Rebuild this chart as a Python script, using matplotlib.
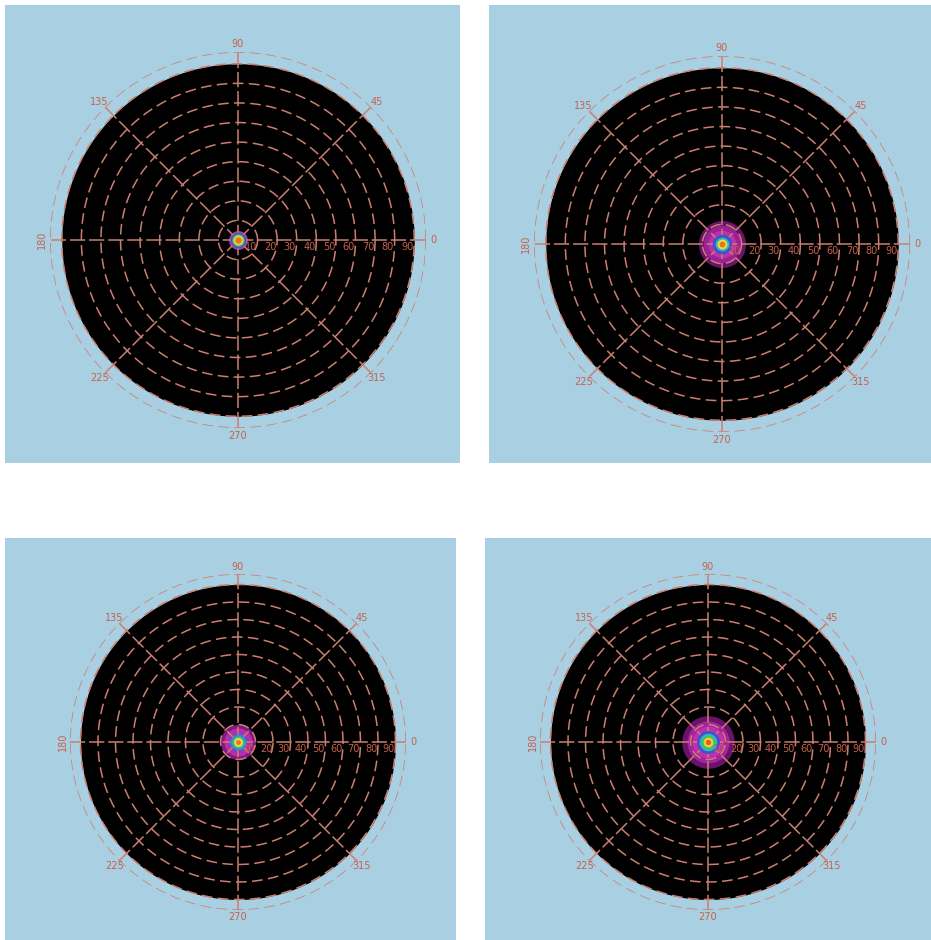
import numpy as np
import matplotlib
matplotlib.use("Agg")
import matplotlib.pyplot as plt
from matplotlib.patches import Rectangle
from matplotlib.colors import LinearSegmentedColormap

W, H = 931, 940

# grid / tick values
ring_values = [10, 20, 30, 40, 50, 60, 70, 80, 90]
angle_values = [0, 45, 90, 135, 180, 225, 270, 315]
angle_labels = ["0", "45", "90", "135", "180", "225", "270", "315"]

# spot profile per panel: radius of each contour band (deg) and its level (0..1)
spot_radii_1 = [4.8, 4.0, 3.2, 2.5, 1.6]
spot_levels_1 = [0.3, 0.45, 0.65, 0.8, 0.92]
spot_radii_2 = [12.0, 9.5, 7.0, 5.0, 3.5, 2.5, 1.5]
spot_levels_2 = [0.1, 0.2, 0.3, 0.45, 0.58, 0.78, 0.92]
spot_radii_3 = [10.0, 8.0, 6.0, 4.5, 3.5, 2.5, 1.4]
spot_levels_3 = [0.14, 0.28, 0.36, 0.5, 0.62, 0.78, 0.92]
spot_radii_4 = [15.0, 12.0, 9.0, 6.5, 5.0, 4.0, 2.8, 1.5]
spot_levels_4 = [0.1, 0.22, 0.3, 0.45, 0.55, 0.65, 0.8, 0.95]

BG = "#a9d0e2"
GRID = "#cc7f70"
TXT = "#c8604c"
R_DISK = 90
R_OUT = 96

cmap = LinearSegmentedColormap.from_list("spot", [
    (0.0, "#2a0630"), (0.15, "#8a1a88"), (0.3, "#c030b0"), (0.45, "#4050d0"),
    (0.55, "#30b8d0"), (0.65, "#40c060"), (0.78, "#e8e040"), (0.88, "#f09030"),
    (1.0, "#e03a20")])


def draw_panel(fig, box, center, rpx, radii, levels):
    x0, y0, x1, y1 = box
    fig.add_artist(Rectangle((x0 / W, 1 - y1 / H), (x1 - x0) / W, (y1 - y0) / H,
                             transform=fig.transFigure, facecolor=BG, edgecolor="none", zorder=0))
    cx, cy = center
    ax = fig.add_axes([(cx - rpx) / W, 1 - (cy + rpx) / H, 2 * rpx / W, 2 * rpx / H],
                      projection="polar")
    ax.set_ylim(0, R_OUT)
    ax.axis("off")
    th = np.linspace(0, 2 * np.pi, 361)
    ax.fill_between(th, 0, R_DISK, color="black", lw=0, zorder=1)

    # outer halo under the grid, bright core over it
    for r, lv in zip(radii, levels):
        z = 2 if lv < 0.4 else 3.5
        ax.fill_between(th, 0, r, color=cmap(lv), lw=0, zorder=z)

    dash = dict(color=GRID, lw=1.1, dashes=(7, 3.5), zorder=3)
    for r in ring_values:
        ax.plot(th, np.full_like(th, r), **dash)
    ax.plot(th, np.full_like(th, R_OUT), **dash)
    for a in angle_values:
        t = np.deg2rad(a)
        ax.plot([t, t], [0, R_OUT], color=GRID, lw=1.1, dashes=(10, 2.5), zorder=3)

    for r in ring_values:
        ax.annotate(str(r), xy=(0, r), xytext=(-0.5, -1.5), textcoords="offset points",
                    ha="right", va="top", fontsize=7, color=TXT, zorder=4)
    for a, lab in zip(angle_values, angle_labels):
        ax.text(np.deg2rad(a), R_OUT + 4, lab, ha="center", va="center",
                fontsize=7, color=TXT, rotation=90 if a == 180 else 0, zorder=4)


fig = plt.figure(figsize=(W / 100, H / 100), dpi=100, facecolor="white")

draw_panel(fig, (5, 5, 460, 463), (238, 240), 188, spot_radii_1, spot_levels_1)
draw_panel(fig, (489, 5, 931, 463), (722, 244), 188, spot_radii_2, spot_levels_2)
draw_panel(fig, (5, 538, 456, 940), (238, 742), 168, spot_radii_3, spot_levels_3)
draw_panel(fig, (485, 538, 931, 940), (708, 742), 168, spot_radii_4, spot_levels_4)

fig.savefig("out.png", dpi=100, facecolor="white")
